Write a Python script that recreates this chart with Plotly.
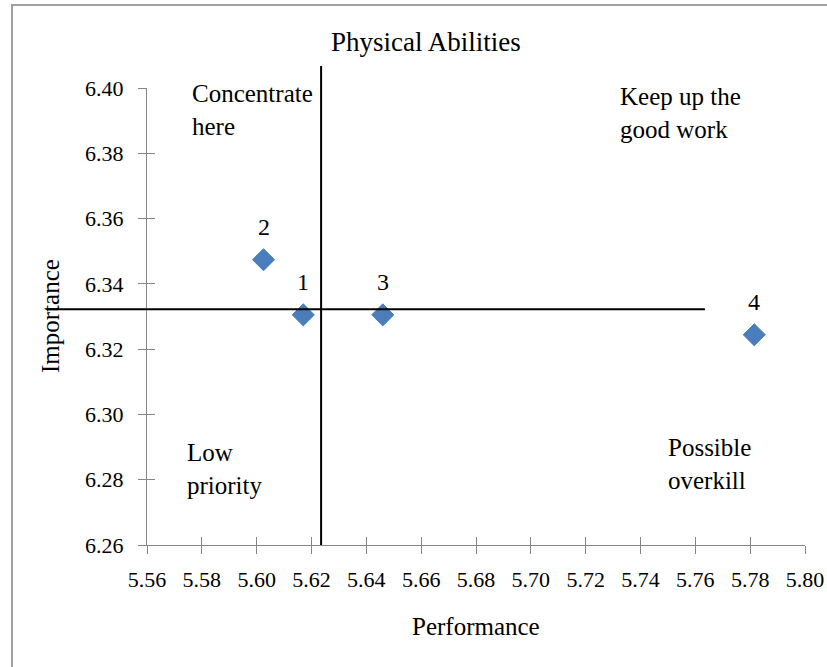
import plotly.graph_objects as go

# ---- data ----
labels = ["1", "2", "3", "4"]
performance = [5.617, 5.6025, 5.646, 5.7815]
importance = [6.3305, 6.3474, 6.3305, 6.3244]

x_ticks = [5.56, 5.58, 5.60, 5.62, 5.64, 5.66, 5.68, 5.70, 5.72, 5.74, 5.76, 5.78, 5.80]
y_ticks = [6.26, 6.28, 6.30, 6.32, 6.34, 6.36, 6.38, 6.40]

mean_perf = 5.6235
mean_imp = 6.3322

quadrant_text = ["Concentrate<br>here", "Keep up the<br>good work", "Low<br>priority", "Possible<br>overkill"]
quadrant_x = [5.5757, 5.7319, 5.5739, 5.7494]
quadrant_y = [6.3933, 6.3922, 6.2833, 6.2848]

title = "Physical Abilities"
x_title = "Performance"
y_title = "Importance"

# ---- layout geometry ----
W, H = 827, 667
L, R, T, B = 147, 22, 88, 122
XR = [5.56, 5.80]
YR = [6.26, 6.40]
PW, PH = W - L - R, H - T - B

def px_x(px):
    return (px - L) / PW

def px_y(py):
    return (H - B - py) / PH

def data_px(v):
    return (v - XR[0]) / (XR[1] - XR[0])

FONT = "Liberation Serif, Times New Roman, serif"
AX = "#868686"

fig = go.Figure()
fig.add_trace(go.Scatter(
    x=performance, y=importance, mode="markers",
    marker=dict(symbol="diamond", size=17, color="#4a7ebb",
                line=dict(color="#4a7ebb", width=1)),
    showlegend=False, hoverinfo="skip", cliponaxis=False))
# dummy trace to render overlay axes (cross ticks)
fig.add_trace(go.Scatter(x=[None], y=[None], xaxis="x2", yaxis="y2",
                         showlegend=False, hoverinfo="skip"))

for lab, xv, yv in zip(labels, performance, importance):
    fig.add_annotation(x=xv, y=yv, text=lab, showarrow=False, yshift=33,
                       xanchor="center", yanchor="middle",
                       font=dict(family=FONT, size=24, color="black"))

for t, xv, yv in zip(quadrant_text, quadrant_x, quadrant_y):
    fig.add_annotation(x=xv, y=yv, text=t, showarrow=False, xanchor="left",
                       yanchor="middle", align="left",
                       font=dict(family=FONT, size=25, color="black"))

# titles
fig.add_annotation(xref="paper", yref="paper", x=px_x(426), y=px_y(42), text=title,
                   xanchor="center", yanchor="middle",
                   showarrow=False, font=dict(family=FONT, size=27, color="black"))
fig.add_annotation(xref="paper", yref="paper", x=px_x(476), y=px_y(626), text=x_title,
                   xanchor="center", yanchor="middle",
                   showarrow=False, font=dict(family=FONT, size=25, color="black"))
fig.add_annotation(xref="paper", yref="paper", x=px_x(50), y=px_y(316), text=y_title,
                   xanchor="center", yanchor="middle",
                   textangle=-90, showarrow=False,
                   font=dict(family=FONT, size=25, color="black"))

# mean lines
fig.add_shape(type="line", xref="paper", yref="y",
              x0=px_x(47), x1=data_px(5.7635), y0=mean_imp, y1=mean_imp,
              line=dict(color="black", width=2))
fig.add_shape(type="line", xref="x", yref="paper",
              x0=mean_perf, x1=mean_perf, y0=0, y1=px_y(66),
              line=dict(color="black", width=2))

# outer frame
fig.add_shape(type="rect", xref="paper", yref="paper",
              x0=px_x(12), x1=px_x(900), y0=px_y(720), y1=px_y(5),
              line=dict(color="#a0a0a0", width=2), layer="below")

axis_common = dict(showgrid=False, zeroline=False, showline=True, linecolor=AX,
                   linewidth=1, tickcolor=AX, ticklen=8, tickwidth=1,
                   automargin=False)

fig.update_layout(
    width=W, height=H, autosize=False,
    margin=dict(l=L, r=R, t=T, b=B, autoexpand=False),
    paper_bgcolor="white", plot_bgcolor="white",
    font=dict(family=FONT, color="black"),
    xaxis=dict(range=XR, tickvals=x_ticks, ticktext=[f"{v:.2f}" for v in x_ticks],
               ticks="outside", ticklabelstandoff=7,
               tickfont=dict(family=FONT, size=22, color="black"), **axis_common),
    yaxis=dict(range=YR, tickvals=y_ticks, ticktext=[f"{v:.2f}" for v in y_ticks],
               ticks="outside", ticklabelstandoff=10,
               tickfont=dict(family=FONT, size=22, color="black"), **axis_common),
    xaxis2=dict(range=XR, tickvals=x_ticks, overlaying="x", anchor="y2",
                ticks="inside", showticklabels=False, **axis_common),
    yaxis2=dict(range=YR, tickvals=y_ticks, overlaying="y", anchor="x2",
                ticks="inside", showticklabels=False, **axis_common),
)

fig.write_html("out.html", config={"displayModeBar": False},
               post_script="document.body.style.margin='0';document.body.style.padding='0';document.body.style.overflow='hidden';")
